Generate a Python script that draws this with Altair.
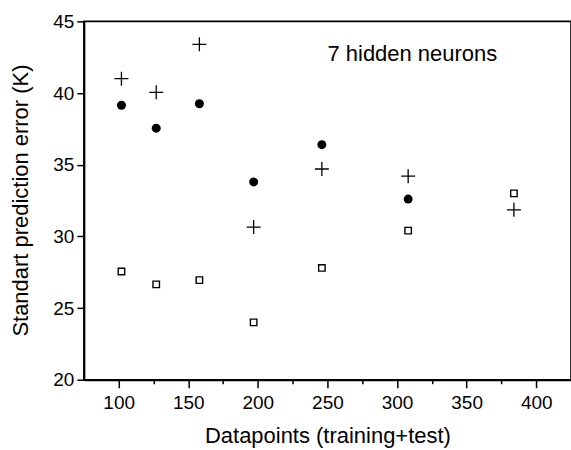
import altair as alt
import pandas as pd

# Number of datapoints (training + test) for each network run
datapoints = [102, 127, 158, 197, 246, 308, 384]
# Standard prediction error (K) for the three result sets
err_cross = [41.0, 40.05, 43.4, 30.65, 34.7, 34.2, 31.85]
err_dot = [39.15, 37.55, 39.25, 33.8, 36.4, 32.6, None]
err_square = [27.55, 26.65, 26.95, 24.0, 27.8, 30.4, 33.0]

annotation = "7 hidden neurons"

df = pd.DataFrame({
    "n": datapoints,
    "cross": err_cross,
    "dot": err_dot,
    "square": err_square,
})

FONT = "Liberation Sans"
X_DOMAIN = [75, 425]
Y_DOMAIN = [20, 45]

x_enc = alt.X(
    "n:Q",
    scale=alt.Scale(domain=X_DOMAIN, nice=False, zero=False),
    axis=alt.Axis(
        title="Datapoints (training+test)",
        values=list(range(100, 425, 25)),
        labelExpr="datum.value % 50 === 0 ? datum.label : ''",
        tickSize={"condition": {"test": "datum.value % 50 === 0", "value": 8}, "value": 4},
        tickWidth=1.5,
        tickColor="black",
        domainColor="black",
        domainWidth=2,
        grid=False,
        labelFont=FONT,
        labelFontSize=19,
        labelColor="black",
        labelPadding=6,
        titleFont=FONT,
        titleFontSize=22,
        titleFontWeight="normal",
        titleColor="black",
        titleX=244,
        titleY=63,
        titleBaseline="alphabetic",
        titleAlign="center",
    ),
)


def y_enc(field):
    return alt.Y(
        f"{field}:Q",
        scale=alt.Scale(domain=Y_DOMAIN, nice=False, zero=False),
        axis=alt.Axis(
            title="Standart prediction error (K)",
            values=[20, 22.5, 25, 27.5, 30, 32.5, 35, 37.5, 40, 42.5, 45],
            labelExpr="datum.value % 5 === 0 ? datum.label : ''",
            tickSize={"condition": {"test": "datum.value % 5 === 0", "value": 7}, "value": 4},
            tickWidth=1.5,
            tickColor="black",
            domainColor="black",
            domainWidth=2,
            grid=False,
            labelFont=FONT,
            labelFontSize=19,
            labelColor="black",
            labelPadding=3,
            titleFont=FONT,
            titleFontSize=22,
            titleFontWeight="normal",
            titleColor="black",
            titleAngle=270,
            titleX=-56,
            titleY=179,
            titleAlign="center",
            titleBaseline="alphabetic",
        ),
    )


base = alt.Chart(df)

crosses = base.mark_point(
    shape="M-1,0H1M0,-1V1",
    size=196,
    filled=False,
    stroke="black",
    strokeWidth=1.3,
    opacity=1,
).encode(x=x_enc, y=y_enc("cross"))

dots = base.transform_filter("isValid(datum.dot)").mark_point(
    shape="circle",
    size=81,
    filled=True,
    fill="black",
    stroke="black",
    strokeWidth=0,
    opacity=1,
).encode(x=x_enc, y=y_enc("dot"))

squares = base.mark_point(
    shape="square",
    size=42,
    filled=False,
    stroke="black",
    strokeWidth=1.4,
    opacity=1,
).encode(x=x_enc, y=y_enc("square"))

label = alt.Chart(pd.DataFrame({"n": [311], "v": [42.7], "t": [annotation]})).mark_text(
    font=FONT,
    fontSize=22,
    color="black",
    align="center",
    baseline="middle",
).encode(
    x=alt.X("n:Q", scale=alt.Scale(domain=X_DOMAIN, nice=False, zero=False)),
    y=alt.Y("v:Q", scale=alt.Scale(domain=Y_DOMAIN, nice=False, zero=False)),
    text="t:N",
)

chart = (
    alt.layer(squares, dots, crosses, label)
    .properties(
        width=488,
        height=359,
        autosize=alt.AutoSizeParams(type="none"),
        padding={"left": 84, "top": 21, "right": 0, "bottom": 70},
        background="white",
    )
    .configure_view(stroke="black", strokeWidth=1.6)
)

chart.save("out.html", embed_options={"renderer": "svg", "actions": False})
